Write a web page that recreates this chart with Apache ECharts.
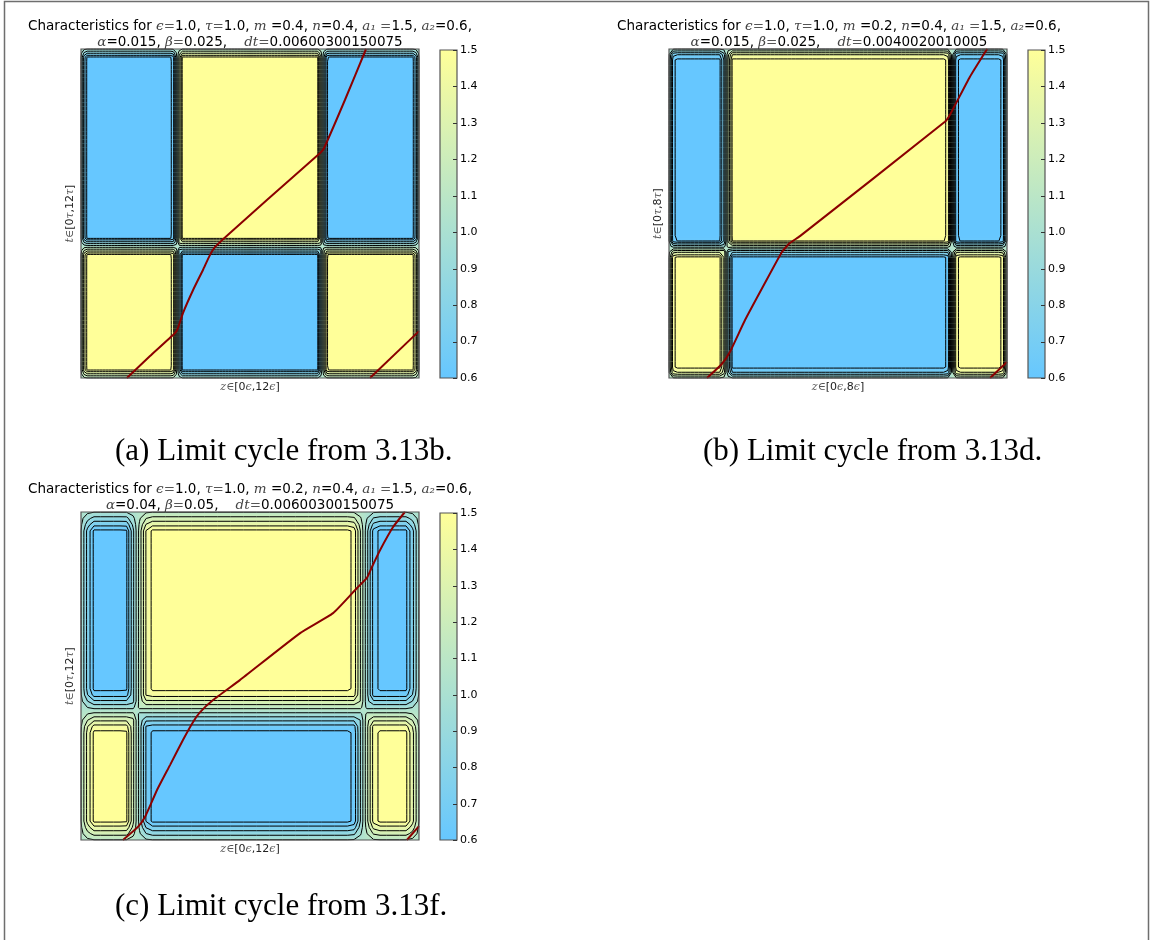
<!DOCTYPE html>
<html>
<head>
<meta charset="utf-8">
<title>Characteristics and limit cycles</title>
<script src="https://cdn.jsdelivr.net/npm/echarts@6.0.0/dist/echarts.min.js"></script>
<style>
  html, body { margin: 0; padding: 0; background: #ffffff; }
  #chart { width: 1151px; height: 940px; }
</style>
</head>
<body>
<div id="chart"></div>
<script>
// ---- colour scale shared by the three panels ----
const scaleMin = 0.6;
const scaleMax = 1.5;
const colourbarTicks = [0.6, 0.7, 0.8, 0.9, 1.0, 1.1, 1.2, 1.3, 1.4, 1.5];
const contourLevels = [0.62, 0.7, 0.8, 0.9, 1.0, 1.1, 1.2, 1.3, 1.4, 1.48];

// ---- (a) m=0.4, alpha=0.015, beta=0.025, z in [0,12], t in [0,12] ----
const aZEdges = [0, 3.42, 8.57, 12];
const aTEdges = [0, 4.8, 12];
const aColumnSigns = [-1, 1, -1];
const aRowSigns = [-1, 1];
const aRampWidths = [0.167, 0.306];
const aCharZ = [1.63, 2.45, 3.34, 3.44, 3.62, 3.98, 4.33, 4.58, 4.76, 5.01, 5.29, 6.60, 8.49, 8.63, 9.37, 10.12];
const aCharT = [0, 0.80, 1.64, 1.82, 2.37, 3.21, 3.94, 4.49, 4.78, 5.03, 5.29, 6.49, 8.21, 8.39, 10.14, 12];
const aWrapZ = [10.26, 12];
const aWrapT = [0, 1.71];

// ---- (b) m=0.2, alpha=0.015, beta=0.025, z in [0,8], t in [0,8] ----
const bZEdges = [0, 1.36, 6.70, 8];
const bTEdges = [0, 3.16, 8];
const bColumnSigns = [-1, 1, -1];
const bRowSigns = [-1, 1];
const bRampWidths = [0.11, 0.18];
const bCharZ = [0.90, 1.25, 1.44, 1.80, 2.27, 2.67, 2.86, 3.10, 6.53, 6.65, 7.12, 7.53];
const bCharT = [0, 0.34, 0.63, 1.41, 2.31, 3.06, 3.28, 3.45, 6.23, 6.40, 7.32, 8.0];
const bWrapZ = [7.60, 8];
const bWrapT = [0, 0.39];

// ---- (c) m=0.2, alpha=0.04, beta=0.05, z in [0,12], t in [0,12] ----
const cZEdges = [0, 2.0, 10.05, 12];
const cTEdges = [0, 4.73, 12];
const cColumnSigns = [-1, 1, -1];
const cRowSigns = [-1, 1];
const cRampWidths = [0.39, 0.67];
const cCharZ = [1.49, 2.02, 2.27, 2.70, 3.16, 3.62, 3.98, 4.23, 4.69, 5.64, 7.78, 8.95, 9.80, 10.15, 10.33, 10.62, 11.08, 11.50];
const cCharT = [0, 0.48, 0.84, 1.83, 2.74, 3.66, 4.32, 4.68, 5.12, 5.85, 7.57, 8.30, 9.22, 9.59, 9.99, 10.61, 11.45, 12.0];
const cWrapZ = [11.57, 12];
const cWrapT = [0, 0.51];

// ---- colours ----
const LOW_RGB = [102, 199, 255];
const HIGH_RGB = [255, 255, 153];
const CURVE_COLOR = '#8b0000';

function colourAt(v) {
  const f = Math.min(Math.max((v - scaleMin) / (scaleMax - scaleMin), 0), 1);
  return [0, 1, 2].map(i => Math.round(LOW_RGB[i] + f * (HIGH_RGB[i] - LOW_RGB[i])));
}
function rgbString(c) { return 'rgb(' + c[0] + ',' + c[1] + ',' + c[2] + ')'; }

// 0 outside, 1 inside, 0.5 on an interior block edge, linear over +-w
function ramp01(d, w) { return Math.min(Math.max(0.5 + d / (2 * w), 0), 1); }
function insideness(x, lo, hi, w, max) {
  let r = 1;
  if (lo > 0) r = Math.min(r, ramp01(x - lo, w));
  if (hi < max) r = Math.min(r, ramp01(hi - x, w));
  return r;
}
function edgeFactor(d, w) { return Math.min(1, 0.1 + 0.9 * d / w); }

// Block field: low value in the blue blocks of the checkerboard, high value
// in the others, pulled toward the middle of the scale near the domain edges.
function makeField(p) {
  const low = [];
  p.colSigns.forEach((cs, c) => p.rowSigns.forEach((rs, r) => {
    if (cs * rs < 0) low.push([p.zEdges[c], p.zEdges[c + 1], p.tEdges[r], p.tEdges[r + 1]]);
  }));
  const mid = (scaleMin + scaleMax) / 2;
  const wz = p.ramp[0], wt = p.ramp[1];
  return (z, t) => {
    let b = 0;
    for (const k of low) {
      b = Math.max(b, Math.min(insideness(z, k[0], k[1], wz, p.zMax), insideness(t, k[2], k[3], wt, p.tMax)));
    }
    const v0 = scaleMax - (scaleMax - scaleMin) * b;
    const e = edgeFactor(Math.min(z, p.zMax - z), wz) * edgeFactor(Math.min(t, p.tMax - t), wt);
    return mid + (v0 - mid) * e;
  };
}

// Sample the field on the plotting mesh
function sampleMesh(p) {
  const nz = p.mesh[0], nt = p.mesh[1];
  const vals = new Float64Array((nz + 1) * (nt + 1));
  for (let j = 0; j <= nt; j++) {
    for (let i = 0; i <= nz; i++) vals[j * (nz + 1) + i] = p.field(p.zMax * i / nz, p.tMax * j / nt);
  }
  return vals;
}

// Marching squares on the mesh: segments [z1, t1, z2, t2]
function isoSegments(p, levels) {
  const nz = p.mesh[0], nt = p.mesh[1], vals = p.meshVals;
  const dz = p.zMax / nz, dt = p.tMax / nt, stride = nz + 1;
  const segs = [];
  for (const L of levels) {
    for (let j = 0; j < nt; j++) {
      for (let i = 0; i < nz; i++) {
        const a = vals[j * stride + i], b = vals[j * stride + i + 1];
        const c = vals[(j + 1) * stride + i + 1], d = vals[(j + 1) * stride + i];
        const ia = a >= L, ib = b >= L, ic = c >= L, id = d >= L;
        if (ia === ib && ib === ic && ic === id) continue;
        const z0 = i * dz, t0 = j * dt;
        const pts = {};
        if (ia !== ib) pts.B = [z0 + dz * (L - a) / (b - a), t0];
        if (ib !== ic) pts.R = [z0 + dz, t0 + dt * (L - b) / (c - b)];
        if (id !== ic) pts.T = [z0 + dz * (L - d) / (c - d), t0 + dt];
        if (ia !== id) pts.W = [z0, t0 + dt * (L - a) / (d - a)];
        const keys = Object.keys(pts);
        if (keys.length === 2) {
          segs.push(pts[keys[0]].concat(pts[keys[1]]));
        } else if (keys.length === 4) {
          const centreIn = (a + b + c + d) / 4 >= L;
          if (centreIn === ia) segs.push(pts.B.concat(pts.R), pts.T.concat(pts.W));
          else segs.push(pts.W.concat(pts.B), pts.R.concat(pts.T));
        }
      }
    }
  }
  return segs;
}

function zip(xs, ys) { return xs.map((x, i) => [x, ys[i]]); }

// ---- rich text styles ----
const titleRich = {
  n: { fontFamily: 'DejaVu Sans', fontSize: 13.5, fill: '#000', color: '#000' },
  m: { fontFamily: 'DejaVu Serif', fontStyle: 'italic', fontSize: 13.5, fill: '#444', color: '#444' },
  s: { fontFamily: 'DejaVu Serif', fontSize: 13.5, fill: '#555', color: '#555' }
};
const axisRich = {
  n: { fontFamily: 'DejaVu Sans', fontSize: 11, color: '#222' },
  m: { fontFamily: 'DejaVu Serif', fontStyle: 'italic', fontSize: 11, color: '#555' },
  s: { fontFamily: 'DejaVu Serif', fontSize: 11, color: '#555' }
};

const panels = [
  {
    zMax: 12, tMax: 12, zEdges: aZEdges, tEdges: aTEdges, colSigns: aColumnSigns, rowSigns: aRowSigns,
    ramp: aRampWidths, curve: zip(aCharZ, aCharT), wrap: zip(aWrapZ, aWrapT), mesh: [110, 80],
    grid: { left: 81, top: 49, width: 338, height: 329 },
    bar: { left: 440, top: 50, width: 17, height: 328 },
    titleX: 250, titleY: [26, 42],
    title: [
      '{n|Characteristics for }{m|ϵ}{s|=}{n|1.0, }{m|τ}{s|=}{n|1.0, }{m|m}{n| =0.4, }{m|n}{n|=0.4, }{m|a₁}{s| =}{n|1.5, }{m|a₂}{n|=0.6,}',
      '{m|α}{n|=0.015, }{m|β}{s|=}{n|0.025,    }{m|dt}{s|=}{n|0.00600300150075}'
    ],
    xName: '{m|z}{s|∈}{n|[0}{m|ϵ}{n|,12}{m|ϵ}{n|]}',
    yName: '{m|t}{s|∈}{n|[0}{m|τ}{n|,12}{m|τ}{n|]}',
    caption: '(a) Limit cycle from 3.13b.', capX: 115, capY: 452
  },
  {
    zMax: 8, tMax: 8, zEdges: bZEdges, tEdges: bTEdges, colSigns: bColumnSigns, rowSigns: bRowSigns,
    ramp: bRampWidths, curve: zip(bCharZ, bCharT), wrap: zip(bWrapZ, bWrapT), mesh: [80, 60],
    grid: { left: 669, top: 49, width: 338, height: 329 },
    bar: { left: 1028, top: 50, width: 17, height: 328 },
    titleX: 839, titleY: [26, 42],
    title: [
      '{n|Characteristics for }{m|ϵ}{s|=}{n|1.0, }{m|τ}{s|=}{n|1.0, }{m|m}{n| =0.2, }{m|n}{n|=0.4, }{m|a₁}{s| =}{n|1.5, }{m|a₂}{n|=0.6,}',
      '{m|α}{n|=0.015, }{m|β}{s|=}{n|0.025,    }{m|dt}{s|=}{n|0.0040020010005}'
    ],
    xName: '{m|z}{s|∈}{n|[0}{m|ϵ}{n|,8}{m|ϵ}{n|]}',
    yName: '{m|t}{s|∈}{n|[0}{m|τ}{n|,8}{m|τ}{n|]}',
    caption: '(b) Limit cycle from 3.13d.', capX: 703, capY: 452
  },
  {
    zMax: 12, tMax: 12, zEdges: cZEdges, tEdges: cTEdges, colSigns: cColumnSigns, rowSigns: cRowSigns,
    ramp: cRampWidths, curve: zip(cCharZ, cCharT), wrap: zip(cWrapZ, cWrapT), mesh: [52, 52],
    grid: { left: 81, top: 512, width: 338, height: 328 },
    bar: { left: 440, top: 513, width: 17, height: 327 },
    titleX: 250, titleY: [489, 505],
    title: [
      '{n|Characteristics for }{m|ϵ}{s|=}{n|1.0, }{m|τ}{s|=}{n|1.0, }{m|m}{n| =0.2, }{m|n}{n|=0.4, }{m|a₁}{s| =}{n|1.5, }{m|a₂}{n|=0.6,}',
      '{m|α}{n|=0.04, }{m|β}{s|=}{n|0.05,    }{m|dt}{s|=}{n|0.00600300150075}'
    ],
    xName: '{m|z}{s|∈}{n|[0}{m|ϵ}{n|,12}{m|ϵ}{n|]}',
    yName: '{m|t}{s|∈}{n|[0}{m|τ}{n|,12}{m|τ}{n|]}',
    caption: '(c) Limit cycle from 3.13f.', capX: 115, capY: 907
  }
];

panels.forEach(p => {
  p.field = makeField(p);
  p.meshVals = sampleMesh(p);
  p.segments = isoSegments(p, contourLevels);
  p.canvasCache = null;
});

// Raster of the mesh values, bilinearly interpolated, one pixel per screen pixel
function fieldCanvas(p, w, h) {
  if (p.canvasCache && p.canvasCache.width === w && p.canvasCache.height === h) return p.canvasCache;
  const nz = p.mesh[0], nt = p.mesh[1], vals = p.meshVals, stride = nz + 1;
  const cv = document.createElement('canvas');
  cv.width = w; cv.height = h;
  const ctx = cv.getContext('2d');
  const img = ctx.createImageData(w, h);
  for (let y = 0; y < h; y++) {
    const gt = nt * (1 - (y + 0.5) / h);
    const j = Math.min(Math.floor(gt), nt - 1), ft = gt - j;
    for (let x = 0; x < w; x++) {
      const gz = nz * (x + 0.5) / w;
      const i = Math.min(Math.floor(gz), nz - 1), fz = gz - i;
      const v = (1 - ft) * ((1 - fz) * vals[j * stride + i] + fz * vals[j * stride + i + 1]) +
                ft * ((1 - fz) * vals[(j + 1) * stride + i] + fz * vals[(j + 1) * stride + i + 1]);
      const c = colourAt(v);
      const k = (y * w + x) * 4;
      img.data[k] = c[0]; img.data[k + 1] = c[1]; img.data[k + 2] = c[2]; img.data[k + 3] = 255;
    }
  }
  ctx.putImageData(img, 0, 0);
  p.canvasCache = cv;
  return cv;
}

const grids = [], xAxes = [], yAxes = [], series = [], graphics = [];

function boxOf(api) {
  const tl = api.coord([api.value(0), api.value(3)]);
  const br = api.coord([api.value(2), api.value(1)]);
  return { x: tl[0], y: tl[1], width: br[0] - tl[0], height: br[1] - tl[1] };
}

panels.forEach(p => {
  const gi = grids.length;
  grids.push(Object.assign({ containLabel: false }, p.grid));
  xAxes.push({
    gridIndex: gi, type: 'value', min: 0, max: p.zMax,
    axisLine: { show: false }, axisTick: { show: false }, axisLabel: { show: false }, splitLine: { show: false },
    name: p.xName, nameLocation: 'middle', nameGap: 4,
    nameTextStyle: { rich: axisRich, verticalAlign: 'top' }
  });
  yAxes.push({
    gridIndex: gi, type: 'value', min: 0, max: p.tMax,
    axisLine: { show: false }, axisTick: { show: false }, axisLabel: { show: false }, splitLine: { show: false },
    name: p.yName, nameLocation: 'middle', nameGap: 5, nameRotate: 90,
    nameTextStyle: { rich: axisRich }
  });

  // colour field
  series.push({
    type: 'custom', xAxisIndex: gi, yAxisIndex: gi, z: 1, silent: true,
    data: [[0, 0, p.zMax, p.tMax]],
    encode: { x: [0, 2], y: [1, 3] },
    renderItem: (params, api) => {
      const r = boxOf(api);
      return {
        type: 'image',
        style: { image: fieldCanvas(p, Math.round(r.width), Math.round(r.height)), x: r.x, y: r.y, width: r.width, height: r.height }
      };
    }
  });

  // contour lines
  series.push({
    type: 'custom', xAxisIndex: gi, yAxisIndex: gi, z: 2, silent: true,
    data: [[0, 0, p.zMax, p.tMax]],
    encode: { x: [0, 2], y: [1, 3] },
    renderItem: (params, api) => {
      let d = '';
      for (const s of p.segments) {
        const a = api.coord([s[0], s[1]]);
        const b = api.coord([s[2], s[3]]);
        d += 'M' + a[0].toFixed(2) + ' ' + a[1].toFixed(2) + 'L' + b[0].toFixed(2) + ' ' + b[1].toFixed(2);
      }
      return {
        type: 'path',
        shape: { pathData: d },
        style: { fill: 'none', stroke: '#000', lineWidth: 1 }
      };
    }
  });

  // characteristic curves
  [p.curve, p.wrap].forEach(pts => {
    series.push({
      type: 'line', xAxisIndex: gi, yAxisIndex: gi, z: 3, silent: true,
      data: pts, showSymbol: false, symbol: 'none', smooth: 0.15,
      lineStyle: { color: CURVE_COLOR, width: 2 }
    });
  });

  // plot frame
  series.push({
    type: 'custom', xAxisIndex: gi, yAxisIndex: gi, z: 4, silent: true,
    data: [[0, 0, p.zMax, p.tMax]],
    encode: { x: [0, 2], y: [1, 3] },
    renderItem: (params, api) => ({
      type: 'rect', shape: boxOf(api),
      style: { fill: 'none', stroke: '#555', lineWidth: 1.2 }
    })
  });

  // colour bar
  const bi = grids.length;
  grids.push(Object.assign({ containLabel: false }, p.bar));
  xAxes.push({ gridIndex: bi, type: 'value', min: 0, max: 1, show: false });
  yAxes.push({
    gridIndex: bi, type: 'value', min: scaleMin, max: scaleMax, interval: 0.1, position: 'right',
    axisLine: { show: false }, splitLine: { show: false }, axisTick: { show: false },
    axisLabel: {
      show: true, customValues: colourbarTicks, margin: 3,
      formatter: v => Number(v).toFixed(1),
      fontFamily: 'DejaVu Sans', fontSize: 11, color: '#000'
    }
  });
  series.push({
    type: 'custom', xAxisIndex: bi, yAxisIndex: bi, z: 1, silent: true,
    data: [[0, scaleMin, 1, scaleMax]],
    encode: { x: [0, 2], y: [1, 3] },
    renderItem: (params, api) => {
      const r = boxOf(api);
      const children = [{
        type: 'rect', shape: r,
        style: {
          fill: new echarts.graphic.LinearGradient(0, 0, 0, 1, [
            { offset: 0, color: rgbString(colourAt(scaleMax)) },
            { offset: 1, color: rgbString(colourAt(scaleMin)) }
          ]),
          stroke: '#555', lineWidth: 1.2
        }
      }];
      colourbarTicks.forEach(v => {
        const q = api.coord([1, v]);
        children.push({
          type: 'line',
          shape: { x1: q[0] - 4, y1: Math.round(q[1]) + 0.5, x2: q[0], y2: Math.round(q[1]) + 0.5 },
          style: { stroke: '#333', lineWidth: 1 }
        });
      });
      return { type: 'group', children };
    }
  });

  // two-line title
  p.title.forEach((line, k) => {
    graphics.push({
      type: 'text', x: p.titleX, y: p.titleY[k], silent: true,
      style: { text: line, rich: titleRich, align: 'center', verticalAlign: 'middle' }
    });
  });

  // caption
  graphics.push({
    type: 'text', x: p.capX, y: p.capY, silent: true,
    style: {
      text: p.caption, align: 'left', verticalAlign: 'middle',
      fontFamily: 'Liberation Serif', fontSize: 31, fill: '#000'
    }
  });
});

// outer frame of the figure
graphics.push({
  type: 'rect', silent: true, z: 100,
  shape: { x: 4.5, y: 1.5, width: 1144, height: 1000 },
  style: { fill: 'none', stroke: '#6e6e6e', lineWidth: 1.5 }
});

const chart = echarts.init(document.getElementById('chart'), null, { renderer: 'canvas' });
chart.setOption({
  animation: false,
  backgroundColor: '#ffffff',
  grid: grids,
  xAxis: xAxes,
  yAxis: yAxes,
  series: series,
  graphic: graphics
});
</script>
</body>
</html>
